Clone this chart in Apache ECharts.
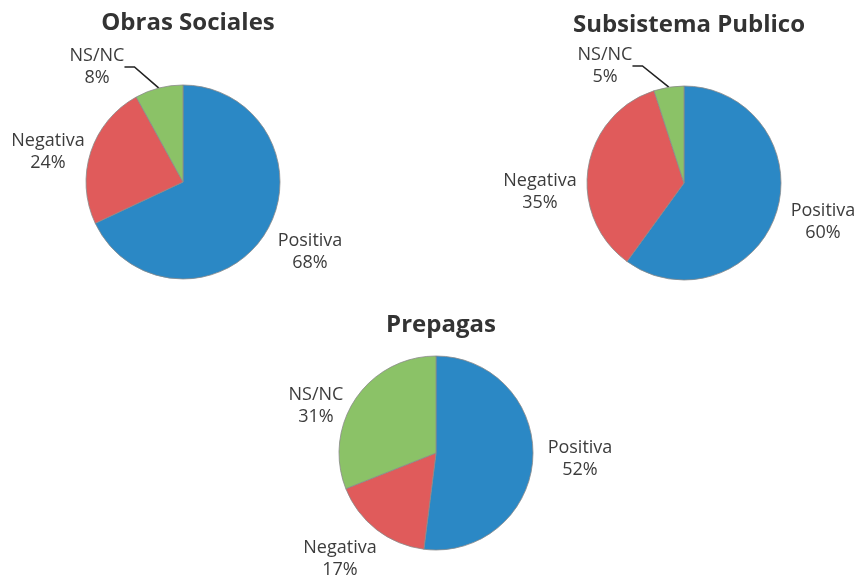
<!DOCTYPE html>
<html>
<head>
<meta charset="utf-8">
<title>Percepción por subsistema</title>
<script src="https://cdn.jsdelivr.net/npm/echarts@6/dist/echarts.min.js"></script>
<style>
  html, body { margin: 0; padding: 0; background: #fff; }
  #chart { width: 860px; height: 576px; }
</style>
</head>
<body>
<div id="chart"></div>
<script>
// datos
const categories = ["Positiva", "Negativa", "NS/NC"];
const titles = ["Obras Sociales", "Subsistema Publico", "Prepagas"];
const obrasSociales = [68, 24, 8];
const subsistemaPublico = [60, 35, 5];
const prepagas = [52, 17, 31];

const colors = ["#2B88C5", "#E05B5B", "#8BC267"];
const allValues = [obrasSociales, subsistemaPublico, prepagas];

// donde va cada pie y su titulo
const centers = [[183, 182], [684, 183], [436, 453]];
const titleTops = [6, 8, 308];
// posicion de etiquetas (centro del bloque de texto), por pie y categoria
const labelPos = [
  [[310, 252], [48, 152], [97, 67]],
  [[823, 222], [540, 192], [605, 66]],
  [[580, 459], [340, 559], [316, 406]]
];
// solo NS/NC de los dos primeros lleva linea
const showLine = [[false, false, true], [false, false, true], [false, false, false]];

const chartDom = document.getElementById("chart");
const myChart = echarts.init(chartDom);

const option = {
  backgroundColor: "#fff",
  animation: false,
  title: titles.map((t, i) => ({
    text: t,
    left: centers[i][0],
    top: titleTops[i],
    textAlign: "center",
    textStyle: {
      fontFamily: "Open Sans",
      fontWeight: "bold",
      fontSize: 24,
      color: "#333"
    }
  })),
  series: allValues.map((vals, si) => ({
    type: "pie",
    center: centers[si],
    radius: 97,
    startAngle: 90,
    clockwise: true,
    emphasis: { disabled: true },
    itemStyle: { borderColor: "#8a8a8a", borderWidth: 0.8 },
    label: {
      show: true,
      position: "outside",
      overflow: "none",
      formatter: (p) => p.name + "\n" + p.value + "%",
      fontFamily: "Open Sans",
      fontSize: 18,
      lineHeight: 22,
      color: "#3c3c3c",
      align: "center"
    },
    labelLine: {
      show: true,
      length: 10,
      length2: 10,
      lineStyle: { color: "#222", width: 1.6 }
    },
    // mueve cada etiqueta a su lugar; la linea se recalcula sola
    labelLayout: (params) => {
      const pos = labelPos[si][params.dataIndex];
      return {
        x: pos[0],
        y: pos[1],
        align: "center",
        verticalAlign: "middle"
      };
    },
    data: categories.map((c, i) => ({
      name: c,
      value: vals[i],
      itemStyle: { color: colors[i] },
      labelLine: { show: showLine[si][i] }
    }))
  }))
};

option && myChart.setOption(option);
</script>
</body>
</html>
